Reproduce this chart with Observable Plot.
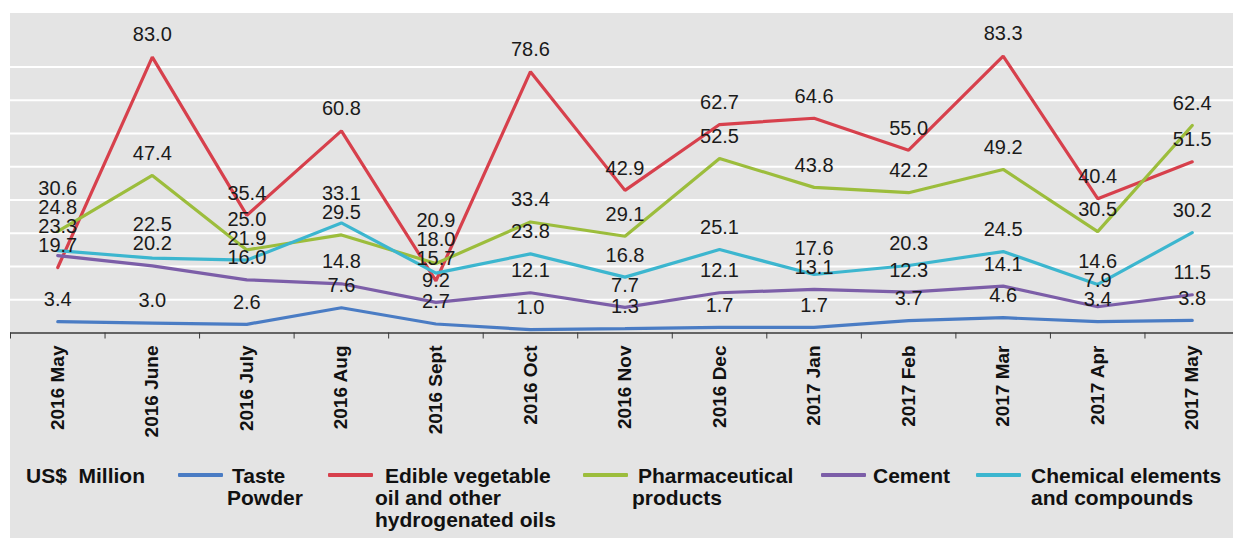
<!DOCTYPE html>
<html>
<head>
<meta charset="utf-8">
<script src="https://cdn.jsdelivr.net/npm/d3@7"></script>
<script src="https://cdn.jsdelivr.net/npm/@observablehq/plot@0.6"></script>
<style>
  html, body { margin: 0; padding: 0; background: #ffffff; }
  body { width: 1233px; height: 538px; position: relative; overflow: hidden;
         font-family: "Liberation Sans", Arial, Helvetica, sans-serif; }
  #bg { position: absolute; left: 10px; top: 13px; right: 0; bottom: 0; background: #e4e4e4; }
  #chart { position: absolute; left: 0; top: 0; }
  #legend { position: absolute; left: 0; top: 0; width: 1233px; height: 538px; pointer-events: none; }
  .lg-unit { position: absolute; top: 465px; font-size: 21px; font-weight: bold; line-height: 22px; color: #111; white-space: nowrap; }
  .lg-sw { position: absolute; top: 473px; height: 4px; border-radius: 1px; }
  .lg-text { position: absolute; top: 465px; font-size: 21px; font-weight: bold; line-height: 22px; color: #111; white-space: nowrap; }
</style>
</head>
<body>
<div id="bg"></div>
<div id="chart"></div>
<div id="legend"></div>
<script>
// ---- data ----
const months = ["2016 May","2016 June","2016 July","2016 Aug","2016 Sept","2016 Oct","2016 Nov","2016 Dec","2017 Jan","2017 Feb","2017 Mar","2017 Apr","2017 May"];
const seriesNames = ["Taste Powder","Edible vegetable oil and other hydrogenated oils","Pharmaceutical products","Cement","Chemical elements and compounds"];
const legendLines = [["Taste","Powder"],["Edible vegetable","oil and other","hydrogenated oils"],["Pharmaceutical","products"],["Cement"],["Chemical elements","and compounds"]];
const tastePowder = [3.4, 3.0, 2.6, 7.6, 2.7, 1.0, 1.3, 1.7, 1.7, 3.7, 4.6, 3.4, 3.8];
const edibleOil   = [19.7, 83.0, 35.4, 60.8, 15.7, 78.6, 42.9, 62.7, 64.6, 55.0, 83.3, 40.4, 51.5];
const pharma      = [30.6, 47.4, 25.0, 29.5, 20.9, 33.4, 29.1, 52.5, 43.8, 42.2, 49.2, 30.5, 62.4];
const cement      = [23.3, 20.2, 16.0, 14.8, 9.2, 12.1, 7.7, 12.1, 13.1, 12.3, 14.1, 7.9, 11.5];
const chemical    = [24.8, 22.5, 21.9, 33.1, 18.0, 23.8, 16.8, 25.1, 17.6, 20.3, 24.5, 14.6, 30.2];
const gridValues  = [10, 20, 30, 40, 50, 60, 70, 80];
const unitLabel = "US$  Million";

// ---- styles ----
const colors = ["#4a7cc4", "#d7404c", "#9cbd3c", "#7c5ea8", "#3cb6cf"];
const W = 1233, H = 440, mTop = 15, mBottom = 107.5, yMax = 95.5;
const pxPerUnit = (H - mTop - mBottom) / yMax;

const allSeries = [tastePowder, edibleOil, pharma, cement, chemical];
const data = [];
allSeries.forEach((vals, s) => vals.forEach((v, i) => data.push({series: seriesNames[s], i, value: v})));

// data labels: stacked above the points, pushed up to avoid collisions
const labelOffset = 22 / pxPerUnit, labelGap = 19 / pxPerUnit;
const labels = [];
months.forEach((m, i) => {
  const col = allSeries.map(vals => ({i, value: vals[i]})).sort((a, b) => a.value - b.value);
  let prev = -Infinity;
  col.forEach(d => {
    const ly = Math.max(d.value + labelOffset, prev + labelGap);
    prev = ly;
    labels.push({i, value: d.value, labelY: ly});
  });
});

const idx = months.map((_, i) => i);
const bounds = d3.range(-0.5, months.length, 1);

const chart = Plot.plot({
  width: W, height: H,
  marginLeft: 10, marginRight: -6, marginTop: mTop, marginBottom: mBottom,
  style: {background: "transparent", fontFamily: "'Liberation Sans', Arial, sans-serif", overflow: "visible"},
  x: {type: "linear", domain: [-0.5, months.length - 0.5], axis: null},
  y: {domain: [0, yMax], axis: null},
  color: {domain: seriesNames, range: colors},
  marks: [
    Plot.ruleY(gridValues, {stroke: "#ffffff", strokeWidth: 2}),
    Plot.ruleY([0], {stroke: "#3a3a3a", strokeWidth: 1.3}),
    Plot.axisX(bounds, {tickSize: 6, stroke: "#3a3a3a", tickFormat: () => "", label: null}),
    Plot.axisX(idx, {tickSize: 0, tickPadding: 12.5, tickRotate: -90, tickFormat: i => months[i],
                     fontSize: 19, fontWeight: "bold", fill: "#111", label: null}),
    Plot.line(data, {x: "i", y: "value", z: "series", stroke: "series", strokeWidth: 3.2, strokeLinejoin: "miter"}),
    Plot.text(labels, {x: "i", y: "labelY", text: d => d.value.toFixed(1), fontSize: 20, fontWeight: "normal", fill: "#1a1a1a"})
  ]
});
document.getElementById("chart").appendChild(chart);

// ---- legend ----
const legend = document.getElementById("legend");
const unit = document.createElement("div");
unit.className = "lg-unit"; unit.style.left = "26px"; unit.style.whiteSpace = "pre";
unit.textContent = unitLabel;
legend.appendChild(unit);
const swLeft = [178, 328, 583, 821, 976];
const txtLeft = [227, 375, 632, 873, 1031];
const indent = [5, 10, 6, 0, 0];
legendLines.forEach((lines, s) => {
  const sw = document.createElement("div");
  sw.className = "lg-sw";
  sw.style.left = swLeft[s] + "px"; sw.style.width = "45px"; sw.style.background = colors[s];
  legend.appendChild(sw);
  const t = document.createElement("div");
  t.className = "lg-text";
  t.style.left = txtLeft[s] + "px";
  lines.forEach((ln, k) => {
    const d = document.createElement("div");
    d.textContent = ln;
    if (k === 0) d.style.paddingLeft = indent[s] + "px";
    t.appendChild(d);
  });
  legend.appendChild(t);
});
</script>
</body>
</html>
